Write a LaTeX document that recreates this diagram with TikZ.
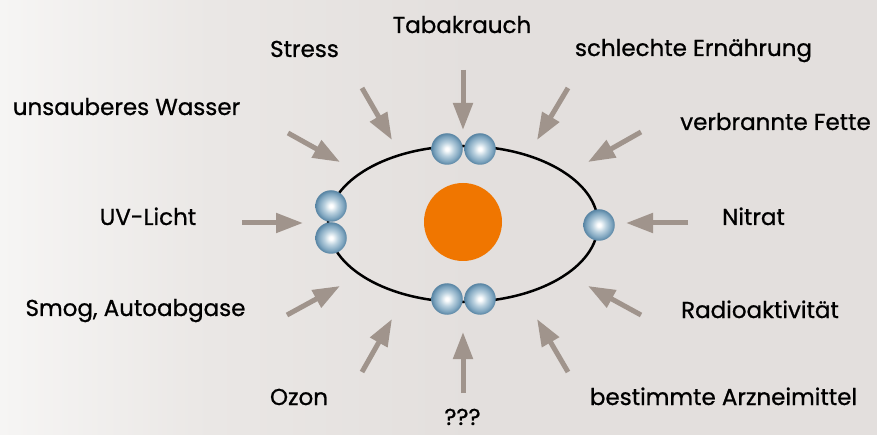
\documentclass[tikz,border=0pt]{standalone}
\usepackage{fontspec}
\setmainfont{Poppins}
\newfontfamily\causefont{Poppins}[FakeBold=0.8]
\usetikzlibrary{arrows.meta}

\definecolor{bgL}{HTML}{F6F5F4}
\definecolor{bgM}{HTML}{EAE7E5}
\definecolor{bgR}{HTML}{E3DFDD}
\definecolor{arrowgray}{HTML}{A0948C}
\definecolor{nucleus}{HTML}{F07600}
\definecolor{pearlB}{HTML}{B9D0DE}
\definecolor{pearlC}{HTML}{7DA4BE}
\definecolor{pearlD}{HTML}{5683A2}

% soft backdrop, light on the left and warmer grey towards the middle
\pgfdeclarehorizontalshading{backdrop}{100bp}{color(0bp)=(bgL); color(25bp)=(bgL);
  color(37bp)=(bgM); color(52bp)=(bgR); color(75bp)=(bgR); color(100bp)=(bgR)}
% glossy blue bead
\pgfdeclareradialshading{pearl}{\pgfpoint{0bp}{0bp}}{color(0bp)=(white); color(2.5bp)=(white);
  color(11bp)=(pearlB); color(20bp)=(pearlC); color(25bp)=(pearlD); color(50bp)=(pearlD)}

\tikzset{
  bead/.style={circle, inner sep=0pt, minimum size=31.5pt, shading=pearl},
  influx/.style={arrowgray, line width=5pt, -{Triangle[length=27pt,width=19pt]}},
  cause/.style={anchor=base, inner sep=0pt, font=\causefont\fontsize{23}{27}\selectfont, text=black},
}

\begin{document}
\begin{tikzpicture}[x=1pt, y=-1pt]
  % canvas
  \shade[shading=backdrop] (0,0) rectangle (877,435);
  \useasboundingbox (0,0) rectangle (877,435);

  % cell membrane and nucleus
  \draw[line width=2.5pt] (463,224) ellipse [x radius=135, y radius=78];
  \node[circle, fill=nucleus, inner sep=0pt, minimum size=78pt] (core) at (463,222) {};

  % beads sitting on the membrane
  \node[bead] (top1) at (447,149) {};
  \node[bead] (top2) at (480,149) {};
  \node[bead] (bot1) at (447,299) {};
  \node[bead] (bot2) at (480,299) {};
  \node[bead] (left1) at (331,206) {};
  \node[bead] (left2) at (331,238) {};
  \node[bead] (right1) at (599,225) {};

  % arrow tails and tips
  \coordinate (tTab) at (463,70);   \coordinate (hTab) at (463,130);
  \coordinate (tStr) at (362,88);   \coordinate (hStr) at (392,140);
  \coordinate (tErn) at (568,88);   \coordinate (hErn) at (537,140);
  \coordinate (tWas) at (288,133);  \coordinate (hWas) at (340,162);
  \coordinate (tFet) at (641,132);  \coordinate (hFet) at (588,162);
  \coordinate (tUV)  at (242,223);  \coordinate (hUV)  at (303,223);
  \coordinate (tNit) at (688,223);  \coordinate (hNit) at (626,223);
  \coordinate (tSmo) at (287,315);  \coordinate (hSmo) at (340,286);
  \coordinate (tRad) at (641,315);  \coordinate (hRad) at (588,286);
  \coordinate (tOzo) at (362,372);  \coordinate (hOzo) at (392,319);
  \coordinate (tUnk) at (463,393);  \coordinate (hUnk) at (463,332);
  \coordinate (tArz) at (568,372);  \coordinate (hArz) at (537,319);

  \foreach \k in {Tab,Str,Ern,Was,Fet,UV,Nit,Smo,Rad,Ozo,Unk,Arz}
    \draw[influx] (t\k) -- (h\k);

  % labels
  \node[cause] (lTab) at (462,33)   {Tabakrauch};
  \node[cause] (lStr) at (304.5,57) {Stress};
  \node[cause] (lErn) at (693.5,56) {schlechte Ernährung};
  \node[cause] (lWas) at (126.5,115) {unsauberes Wasser};
  \node[cause] (lFet) at (775.5,130) {verbrannte Fette};
  \node[cause] (lUV)  at (148,225)  {UV-Licht};
  \node[cause] (lNit) at (753.5,225) {Nitrat};
  \node[cause] (lSmo) at (135.5,316) {Smog, Autoabgase};
  \node[cause] (lRad) at (760,318)  {Radioaktivität};
  \node[cause] (lOzo) at (299,405)  {Ozon};
  \node[cause, text depth=0pt] (lUnk) at (462.5,425) {???};
  \node[cause] (lArz) at (723.5,405) {bestimmte Arzneimittel};
\end{tikzpicture}
\end{document}
